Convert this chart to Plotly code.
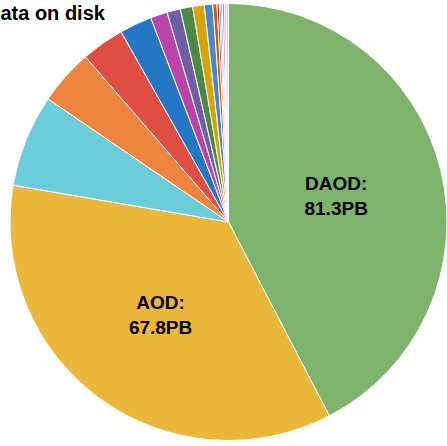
import plotly.graph_objects as go

labels = ["DAOD", "AOD", "HITS", "RAW", "ESD", "EVNT", "NTUP", "RDO", "DESD",
          "DRAW", "TAG", "LOG", "HIST", "TXT", "EVNT_TR", "DNTUP", "BS", "other"]
values_pb = [81.3, 67.8, 13.1, 7.9, 6.1, 4.6, 2.4, 1.9, 1.75,
             1.65, 1.2, 0.59, 0.31, 0.22, 0.2, 0.32, 0.21, 0.35]
colors = ["#7db36b", "#ebb73b", "#6ccdda", "#ee853e", "#e04d42", "#2477c3",
          "#b945ab", "#6f5ea3", "#4b8a46", "#d6a30a", "#4a87c7", "#c5601d",
          "#9e2015", "#2c3b8a", "#6a3e8e", "#c98ac9", "#8f86b5", "#d9d3e6"]
shown_labels = {"DAOD", "AOD"}
title_text = "Data on disk"

texts = [f"<b>{l}:<br>{v}PB</b>" if l in shown_labels else "" for l, v in zip(labels, values_pb)]

fig = go.Figure(go.Pie(
    labels=labels,
    values=values_pb,
    text=texts,
    textinfo="text",
    textposition="inside",
    insidetextorientation="horizontal",
    textfont=dict(family="Liberation Sans, Arial, sans-serif", size=19, color="black"),
    marker=dict(colors=colors, line=dict(color="white", width=1)),
    sort=False,
    direction="clockwise",
    rotation=0,
    hole=0,
    showlegend=False,
))

fig.update_layout(
    width=447, height=446,
    margin=dict(l=10, r=0, t=3, b=5),
    paper_bgcolor="white",
    plot_bgcolor="white",
    annotations=[dict(
        text=f"<b>{title_text}</b>",
        xref="paper", yref="paper",
        x=-26/437, y=1, xanchor="left", yanchor="top",
        showarrow=False,
        font=dict(family="Liberation Sans, Arial, sans-serif", size=20, color="black"),
        yshift=3,
    )],
)

fig.write_html("out.html",
               config={"displayModeBar": False},
               post_script="document.body.style.margin='0';document.body.style.padding='0';")
